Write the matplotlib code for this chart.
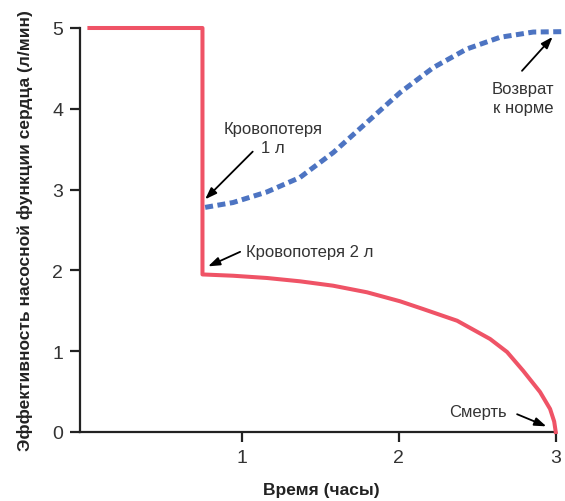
import matplotlib
matplotlib.use("Agg")
import matplotlib.pyplot as plt
from matplotlib import font_manager

# data
step_x = [0.03, 0.75, 0.75]
step_y = [5.0, 5.0, 1.95]

decline_x = [0.75, 0.945, 1.161, 1.371, 1.581, 1.798, 2.008, 2.155, 2.372, 2.582, 2.69, 2.792, 2.90, 2.964, 2.99, 3.0]
decline_y = [1.95, 1.934, 1.906, 1.865, 1.811, 1.729, 1.618, 1.522, 1.377, 1.151, 0.99, 0.759, 0.495, 0.285, 0.13, 0.0]

recover_x = [0.767, 0.945, 1.159, 1.371, 1.584, 1.796, 2.008, 2.22, 2.433, 2.645, 2.857, 3.048]
recover_y = [2.78, 2.84, 2.97, 3.15, 3.46, 3.83, 4.20, 4.51, 4.74, 4.885, 4.95, 4.955]

x_ticks = [1, 2, 3]
y_ticks = [0, 1, 2, 3, 4, 5]

names = {f.name for f in font_manager.fontManager.ttflist}
narrow = 'Liberation Sans Narrow' if 'Liberation Sans Narrow' in names else 'Liberation Sans'
plt.rcParams['font.family'] = [narrow, 'DejaVu Sans']

red = '#ef5366'
blue = '#4d74c2'
txt = '#333333'

fig = plt.figure(figsize=(5.65, 5.02), dpi=100)
ax = fig.add_axes([80/565, 69/502, 483.6/565, 404/502])

ax.plot(step_x + decline_x[1:], step_y + decline_y[1:], color=red, lw=2.9,
        solid_joinstyle='round', clip_on=False, zorder=3)
ax.plot(recover_x, recover_y, color=blue, lw=3.6, dashes=(1.6, 0.9),
        dash_capstyle='butt', clip_on=False, zorder=3)

ax.set_xlim(-0.03, 3.05)
ax.set_ylim(0, 5)
ax.set_xticks(x_ticks)
ax.set_yticks(y_ticks)
for s in ['top', 'right']:
    ax.spines[s].set_visible(False)
for s in ['left', 'bottom']:
    ax.spines[s].set_linewidth(1.6)
    ax.spines[s].set_color('#222222')
ax.spines['bottom'].set_bounds(-0.03, 3)
ax.tick_params(length=7, width=1.6, color='#222222', labelsize=14, labelcolor=txt, pad=5)

ax.set_xlabel('Время (часы)', fontsize=12.5, fontweight='bold', color='#222222', labelpad=12)
ax.set_ylabel('Эффективность насосной функции сердца (л/мин)', fontsize=12.5,
              fontweight='bold', color='#222222', labelpad=14)

arrow = dict(arrowstyle='-|>,head_length=0.7,head_width=0.25', color='black', lw=1.3,
             shrinkA=0, shrinkB=0)

ax.text(1.20, 3.64, 'Кровопотеря\n1 л', ha='center', va='center', fontsize=12,
        color=txt, linespacing=1.3)
ax.annotate('', xy=(0.767, 2.88), xytext=(1.07, 3.47), arrowprops=arrow)

ax.text(1.03, 2.23, 'Кровопотеря 2 л', ha='left', va='center', fontsize=12, color=txt)
ax.annotate('', xy=(0.786, 2.05), xytext=(0.99, 2.23), arrowprops=arrow)

ax.text(2.79, 4.13, 'Возврат\nк норме', ha='center', va='center', fontsize=12,
        color=txt, linespacing=1.3)
ax.annotate('', xy=(2.98, 4.89), xytext=(2.785, 4.47), arrowprops=arrow)

ax.text(2.69, 0.25, 'Смерть', ha='right', va='center', fontsize=12, color=txt)
ax.annotate('', xy=(2.94, 0.07), xytext=(2.754, 0.22), arrowprops=arrow)

fig.savefig('out.png', dpi=100)
